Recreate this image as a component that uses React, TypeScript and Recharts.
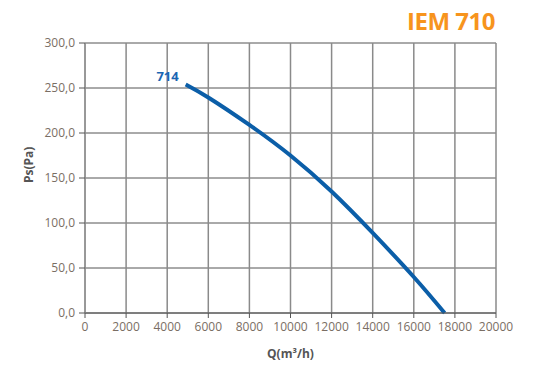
import React from "react";
import {
  LineChart,
  Line,
  XAxis,
  YAxis,
  CartesianGrid,
  LabelList,
} from "recharts";

// Fan curve 714
const flow = [4900, 6000, 8000, 10000, 12000, 14000, 16000, 17500];
const pressure = [254, 239.5, 209, 175, 135, 89, 40, 0];
const xTicks = [0, 2000, 4000, 6000, 8000, 10000, 12000, 14000, 16000, 18000, 20000];
const yTicks = [0, 50, 100, 150, 200, 250, 300];
const curveName = "714";
const title = "IEM 710";

const data = flow.map((q, i) => ({ q, ps: pressure[i] }));

const FONT = "'Open Sans', 'Noto Sans', sans-serif";
const BLUE = "#0b5ea8";

const CurveLabel = (props: any) => {
  const { x, y, index } = props;
  if (index !== 0) return null;
  return (
    <text
      x={x - 7}
      y={y - 3}
      textAnchor="end"
      fontFamily={FONT}
      fontWeight={700}
      fontSize={13}
      fill="#1a66b3"
    >
      {curveName}
    </text>
  );
};

export default function App() {
  return (
    <div style={{ position: "absolute", left: 0, top: 0, width: 537, height: 371, background: "#fff" }}>
      <div
        style={{
          position: "absolute",
          right: 42,
          top: 4,
          fontFamily: FONT,
          fontWeight: 700,
          fontSize: 24,
          color: "#f7941d",
          letterSpacing: -0.5,
        }}
      >
        {title}
      </div>
      <LineChart
        width={537}
        height={371}
        data={data}
        margin={{ top: 43, right: 41, left: 25, bottom: 28 }}
      >
        <CartesianGrid vertical={false} stroke="#555" strokeWidth={1} />
        <CartesianGrid horizontal={false} stroke="#8a8a8a" strokeWidth={1.5} />
        <XAxis
          dataKey="q"
          type="number"
          domain={[0, 20000]}
          ticks={xTicks}
          interval={0}
          height={30}
          tickSize={5}
          tickMargin={4}
          tick={{ fontSize: 12, fill: "#7a6e64", fontFamily: FONT }}
          axisLine={{ stroke: "#555" }}
          tickLine={{ stroke: "#555" }}
          label={{
            value: "Q(m³/h)",
            position: "insideBottom",
            offset: -15,
            fontFamily: FONT,
            fontWeight: 700,
            fontSize: 12,
            fill: "#555",
          }}
        />
        <YAxis
          type="number"
          domain={[0, 300]}
          ticks={yTicks}
          interval={0}
          width={60}
          tickSize={6}
          tickMargin={4}
          tickFormatter={(v: number) => `${v},0`}
          tick={{ fontSize: 12, fill: "#7a6e64", fontFamily: FONT }}
          axisLine={{ stroke: "#8a8a8a" }}
          tickLine={{ stroke: "#555" }}
          label={{
            value: "Ps(Pa)",
            angle: -90,
            position: "insideLeft",
            offset: 4,
            dy: 5,
            fontFamily: FONT,
            fontWeight: 700,
            fontSize: 12,
            fill: "#555",
          }}
        />
        <Line
          type="natural"
          dataKey="ps"
          stroke={BLUE}
          strokeWidth={4}
          dot={false}
          activeDot={false}
          isAnimationActive={false}
        >
          <LabelList dataKey="ps" content={CurveLabel} />
        </Line>
      </LineChart>
    </div>
  );
}
